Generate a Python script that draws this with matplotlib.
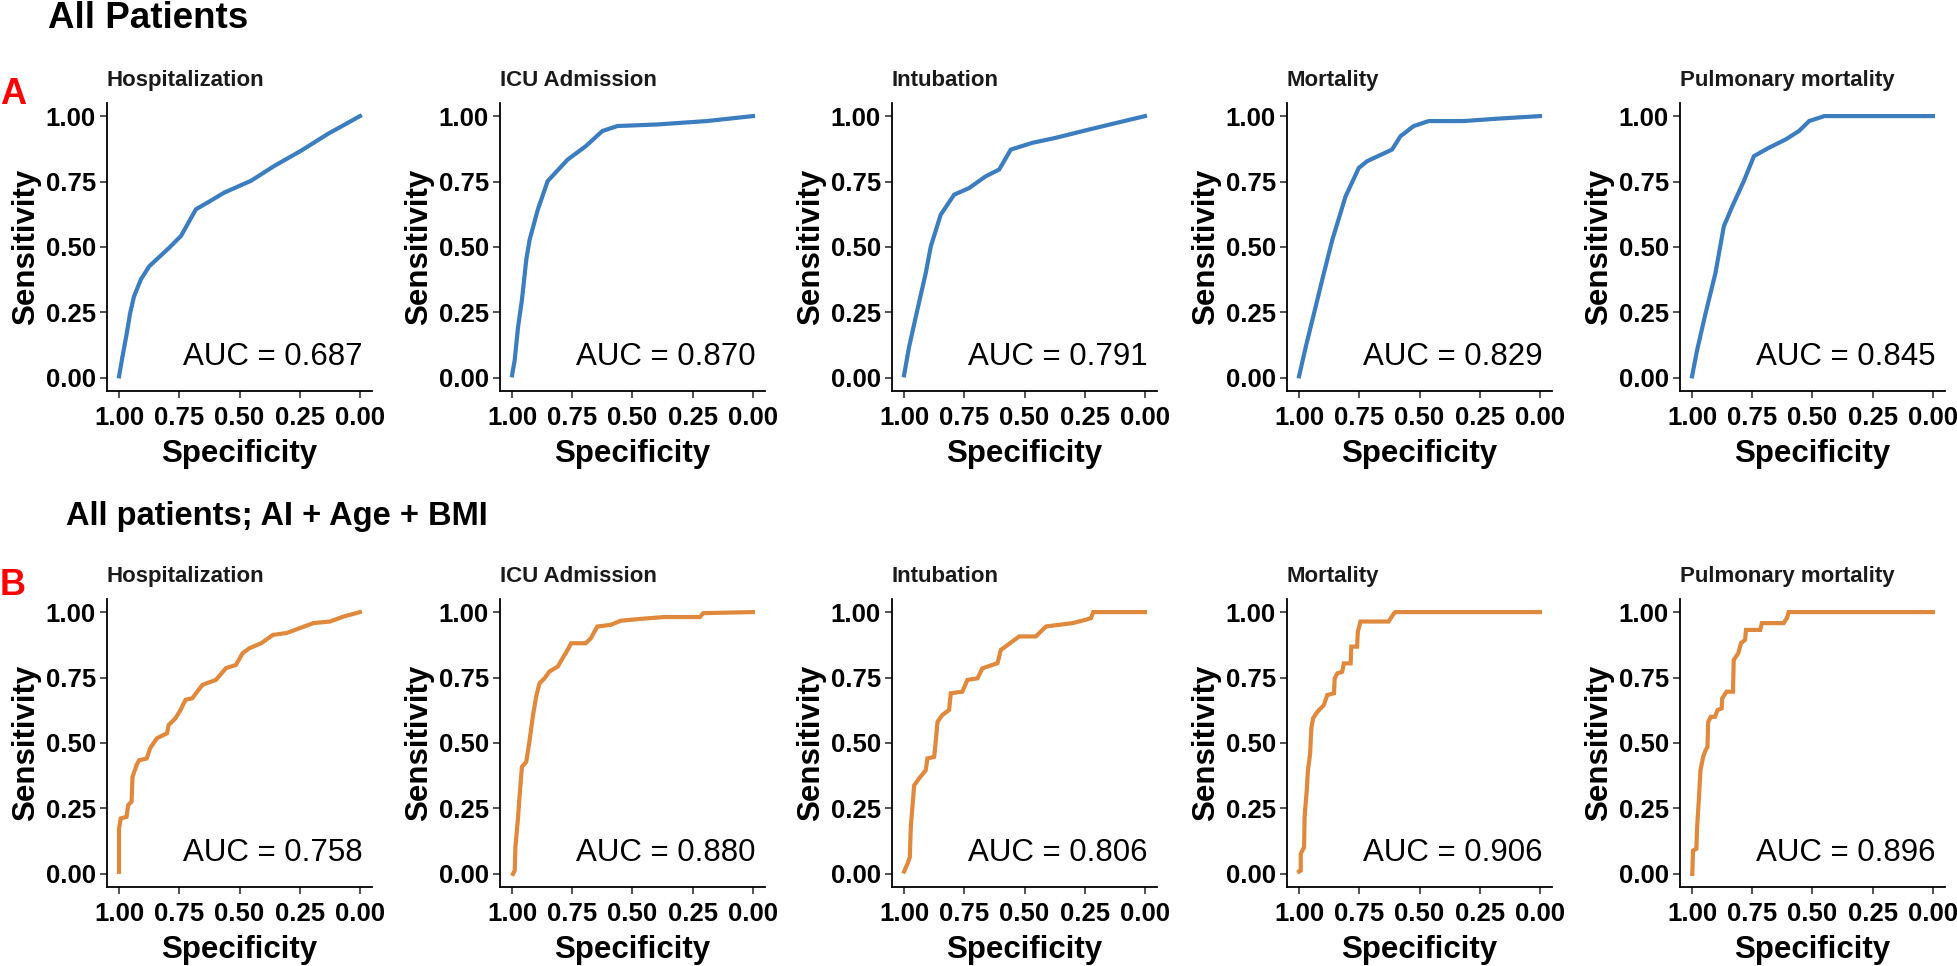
import matplotlib
matplotlib.use('Agg')
import matplotlib.pyplot as plt

plt.rcParams['font.family'] = ['Liberation Sans', 'DejaVu Sans']

# ---------------- data ----------------
outcomes = ["Hospitalization", "ICU Admission", "Intubation", "Mortality", "Pulmonary mortality"]
auc_a = [0.687, 0.870, 0.791, 0.829, 0.845]
auc_b = [0.758, 0.880, 0.806, 0.906, 0.896]
x_ticks = [1.00, 0.75, 0.50, 0.25, 0.00]
y_ticks = [0.00, 0.25, 0.50, 0.75, 1.00]

# Row A: All Patients
hosp_a_spec = [1.0, 0.986, 0.968, 0.954, 0.938, 0.910, 0.875, 0.792, 0.743, 0.681, 0.632, 0.563, 0.452, 0.355, 0.244, 0.133, 0.0]
hosp_a_sens = [0.006, 0.08, 0.17, 0.247, 0.311, 0.375, 0.426, 0.497, 0.542, 0.644, 0.670, 0.708, 0.753, 0.810, 0.868, 0.932, 1.0]

icu_a_spec = [1.0, 0.989, 0.975, 0.959, 0.941, 0.927, 0.893, 0.852, 0.769, 0.694, 0.625, 0.563, 0.398, 0.192, 0.0]
icu_a_sens = [0.01, 0.068, 0.195, 0.298, 0.451, 0.528, 0.643, 0.752, 0.834, 0.885, 0.943, 0.962, 0.968, 0.981, 1.0]

intub_a_spec = [1.0, 0.979, 0.945, 0.910, 0.889, 0.848, 0.792, 0.730, 0.661, 0.605, 0.557, 0.467, 0.370, 0.231, 0.0]
intub_a_sens = [0.01, 0.119, 0.259, 0.400, 0.502, 0.623, 0.700, 0.725, 0.770, 0.796, 0.872, 0.898, 0.917, 0.949, 1.0]

mort_a_spec = [1.0, 0.972, 0.938, 0.897, 0.862, 0.807, 0.752, 0.717, 0.614, 0.579, 0.524, 0.462, 0.317, 0.179, 0.0]
mort_a_sens = [0.006, 0.119, 0.246, 0.400, 0.527, 0.693, 0.802, 0.828, 0.872, 0.923, 0.962, 0.981, 0.981, 0.990, 1.0]

pulm_a_spec = [1.0, 0.979, 0.944, 0.903, 0.868, 0.833, 0.785, 0.743, 0.681, 0.611, 0.556, 0.514, 0.451, 0.0]
pulm_a_sens = [0.006, 0.106, 0.246, 0.400, 0.579, 0.655, 0.752, 0.847, 0.879, 0.911, 0.943, 0.981, 1.0, 1.0]

# Row B: AI + Age + BMI
hosp_b_spec = [1.0, 1.0, 0.993, 0.969, 0.962, 0.948, 0.944, 0.927, 0.917, 0.885, 0.871, 0.843, 0.801, 0.794, 0.766,
               0.745, 0.724, 0.696, 0.654, 0.598, 0.556, 0.515, 0.487, 0.459, 0.410, 0.361, 0.305, 0.249, 0.193,
               0.124, 0.068, 0.0]
hosp_b_sens = [0.008, 0.173, 0.212, 0.218, 0.263, 0.276, 0.371, 0.416, 0.434, 0.441, 0.480, 0.518, 0.537, 0.569, 0.594,
               0.626, 0.665, 0.671, 0.722, 0.741, 0.786, 0.798, 0.843, 0.862, 0.881, 0.913, 0.920, 0.939, 0.958,
               0.964, 0.983, 1.0]

icu_b_spec = [0.996, 0.989, 0.986, 0.975, 0.968, 0.959, 0.941, 0.927, 0.914, 0.900, 0.886, 0.865, 0.845, 0.810, 0.790,
              0.769, 0.755, 0.694, 0.673, 0.646, 0.591, 0.549, 0.467, 0.371, 0.220, 0.206, 0.0]
icu_b_sens = [0.0, 0.013, 0.102, 0.217, 0.307, 0.409, 0.428, 0.511, 0.600, 0.677, 0.728, 0.747, 0.773, 0.792, 0.824,
              0.856, 0.881, 0.881, 0.900, 0.945, 0.951, 0.967, 0.974, 0.981, 0.981, 0.996, 1.0]

intub_b_spec = [1.0, 0.986, 0.976, 0.972, 0.963, 0.958, 0.938, 0.910, 0.903, 0.875, 0.868, 0.861, 0.841, 0.813, 0.806,
                0.758, 0.737, 0.695, 0.675, 0.612, 0.598, 0.578, 0.522, 0.453, 0.411, 0.300, 0.244, 0.224, 0.215, 0.0]
intub_b_sens = [0.009, 0.038, 0.064, 0.179, 0.281, 0.338, 0.364, 0.396, 0.441, 0.447, 0.511, 0.581, 0.607, 0.626, 0.690,
                0.696, 0.741, 0.747, 0.785, 0.805, 0.856, 0.869, 0.907, 0.907, 0.945, 0.958, 0.971, 0.977, 1.0, 1.0]

mort_b_spec = [1.0, 0.993, 0.993, 0.979, 0.977, 0.968, 0.963, 0.954, 0.949, 0.942, 0.924, 0.897, 0.883, 0.855, 0.852,
               0.841, 0.821, 0.814, 0.786, 0.783, 0.759, 0.756, 0.745, 0.628, 0.607, 0.600, 0.0]
mort_b_sens = [0.009, 0.013, 0.077, 0.102, 0.217, 0.319, 0.396, 0.460, 0.556, 0.594, 0.619, 0.645, 0.683, 0.690, 0.747,
               0.766, 0.772, 0.804, 0.804, 0.868, 0.868, 0.925, 0.964, 0.964, 0.994, 1.0, 1.0]

pulm_b_spec = [0.999, 0.996, 0.982, 0.979, 0.972, 0.965, 0.954, 0.944, 0.936, 0.933, 0.922, 0.905, 0.894, 0.877, 0.875,
               0.857, 0.830, 0.827, 0.808, 0.797, 0.780, 0.776, 0.717, 0.710, 0.620, 0.606, 0.599, 0.0]
pulm_b_sens = [0.0, 0.089, 0.096, 0.179, 0.281, 0.396, 0.447, 0.472, 0.485, 0.581, 0.600, 0.600, 0.626, 0.632, 0.670,
               0.696, 0.696, 0.817, 0.843, 0.881, 0.894, 0.932, 0.932, 0.958, 0.958, 0.977, 1.0, 1.0]

curves_a = [(hosp_a_spec, hosp_a_sens), (icu_a_spec, icu_a_sens), (intub_a_spec, intub_a_sens),
            (mort_a_spec, mort_a_sens), (pulm_a_spec, pulm_a_sens)]
curves_b = [(hosp_b_spec, hosp_b_sens), (icu_b_spec, icu_b_sens), (intub_b_spec, intub_b_sens),
            (mort_b_spec, mort_b_sens), (pulm_b_spec, pulm_b_sens)]

color_a = "#3B7DBF"
color_b = "#E0883B"

# ---------------- layout ----------------
W, H = 1958, 966
fig = plt.figure(figsize=(W / 100, H / 100), dpi=100)

col_left = [107, 500, 892, 1287, 1680]
ax_w, ax_h = 265, 288
row_top = [103, 599]


def make_ax(left_px, top_px):
    return fig.add_axes([left_px / W, 1 - (top_px + ax_h) / H, ax_w / W, ax_h / H])


def style(ax, title):
    ax.set_xlim(1.05, -0.05)
    ax.set_ylim(-0.05, 1.05)
    ax.set_xticks(x_ticks)
    ax.set_yticks(y_ticks)
    ax.set_xticklabels([f"{t:.2f}" for t in x_ticks])
    ax.set_yticklabels([f"{t:.2f}" for t in y_ticks])
    for s in ['top', 'right']:
        ax.spines[s].set_visible(False)
    for s in ['left', 'bottom']:
        ax.spines[s].set_linewidth(1.3)
        ax.spines[s].set_color('black')
    ax.tick_params(axis='both', length=5, width=1.2, color='#333333', labelsize=18.5)
    ax.tick_params(axis='x', pad=6)
    ax.tick_params(axis='y', pad=3)
    for lab in ax.get_xticklabels() + ax.get_yticklabels():
        lab.set_fontweight('bold')
    ax.set_xlabel("Specificity", fontsize=22.5, fontweight='bold', labelpad=6)
    ax.set_ylabel("Sensitivity", fontsize=22.5, fontweight='bold', labelpad=3)
    ax.text(0.0, 1 + 17 / ax_h, title, transform=ax.transAxes, fontsize=16, fontweight='bold',
            color='#1a1a1a', ha='left', va='baseline')


for r, (curves, aucs, col) in enumerate([(curves_a, auc_a, color_a), (curves_b, auc_b, color_b)]):
    for c in range(5):
        ax = make_ax(col_left[c], row_top[r])
        spec, sens = curves[c]
        ax.plot(spec, sens, color=col, lw=3.0, solid_joinstyle='miter')
        style(ax, outcomes[c])
        ax.text(-0.01, 0.05, f"AUC = {aucs[c]:.3f}", fontsize=22.5, ha='right', va='baseline', color='black')

fig.text(48 / W, 1 - 28 / H, "All Patients", fontsize=26.5, fontweight='bold', ha='left', va='baseline')
fig.text(66 / W, 1 - 525 / H, "All patients; AI + Age + BMI", fontsize=23.5, fontweight='bold', ha='left', va='baseline')
fig.text(0 / W, 1 - 104 / H, "A", fontsize=26, fontweight='bold', color='red', ha='left', va='baseline')
fig.text(0 / W, 1 - 595 / H, "B", fontsize=26, fontweight='bold', color='red', ha='left', va='baseline')

fig.savefig("out.png", dpi=100, facecolor='white')
